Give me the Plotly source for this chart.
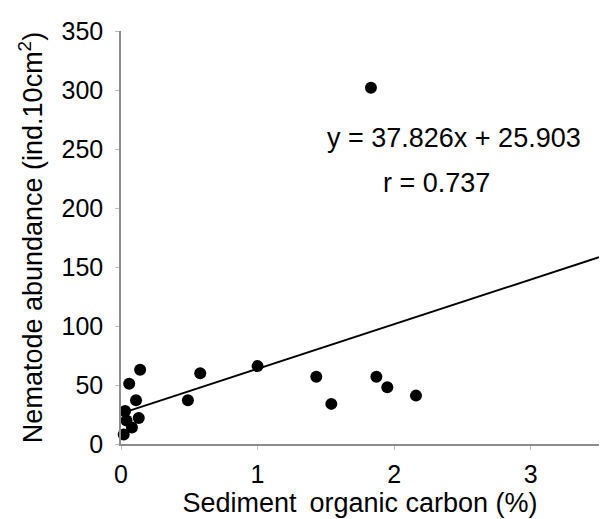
import plotly.graph_objects as go

carbon = [0.02, 0.03, 0.04, 0.08, 0.13, 0.11, 0.06, 0.14, 0.49, 0.58, 1.0, 1.43, 1.54, 1.87, 1.95, 2.16, 1.83]
abundance = [8, 28, 20, 14, 22, 37, 51, 63, 37, 60, 66, 57, 34, 57, 48, 41, 302]

slope = 37.826
intercept = 25.903
fit_x = [0.03, 3.5]
fit_y = [slope * v + intercept for v in fit_x]

x_ticks = [0, 1, 2, 3]
y_ticks = [0, 50, 100, 150, 200, 250, 300, 350]

font = "Liberation Sans, Arial, sans-serif"

fig = go.Figure()
fig.add_trace(go.Scatter(x=fit_x, y=fit_y, mode="lines",
                         line=dict(color="black", width=2), showlegend=False, cliponaxis=False))
fig.add_trace(go.Scatter(x=carbon, y=abundance, mode="markers",
                         marker=dict(color="black", size=12), showlegend=False, cliponaxis=False))

fig.add_annotation(x=2.44, y=259, text="y = 37.826x + 25.903", showarrow=False,
                   font=dict(size=27, color="black", family=font))
fig.add_annotation(x=2.31, y=221, text="r = 0.737", showarrow=False,
                   font=dict(size=27, color="black", family=font))

fig.update_layout(
    width=608, height=519,
    margin=dict(l=121, r=9, t=31, b=75),
    plot_bgcolor="white", paper_bgcolor="white",
    font=dict(family=font, color="black", size=25),
)
fig.update_xaxes(range=[0, 3.5], tickvals=x_ticks, showgrid=False, zeroline=False,
                 showline=True, linecolor="#8c8c8c", linewidth=1.5,
                 ticks="outside", ticklen=4, tickcolor="#bbbbbb",
                 tickfont=dict(size=25), ticklabelstandoff=3,
                 title=dict(text="Sediment\u2009 organic carbon (%)", font=dict(size=27), standoff=0))
fig.update_yaxes(range=[0, 350], tickvals=y_ticks, showgrid=False, zeroline=False,
                 showline=True, linecolor="#8c8c8c", linewidth=1.5,
                 ticks="outside", ticklen=4, tickcolor="#bbbbbb",
                 tickfont=dict(size=25), ticklabelstandoff=7,
                 title=dict(text="Nematode abundance (ind.10cm<sup>2</sup>)", font=dict(size=27), standoff=11))

fig.write_html("out.html")
